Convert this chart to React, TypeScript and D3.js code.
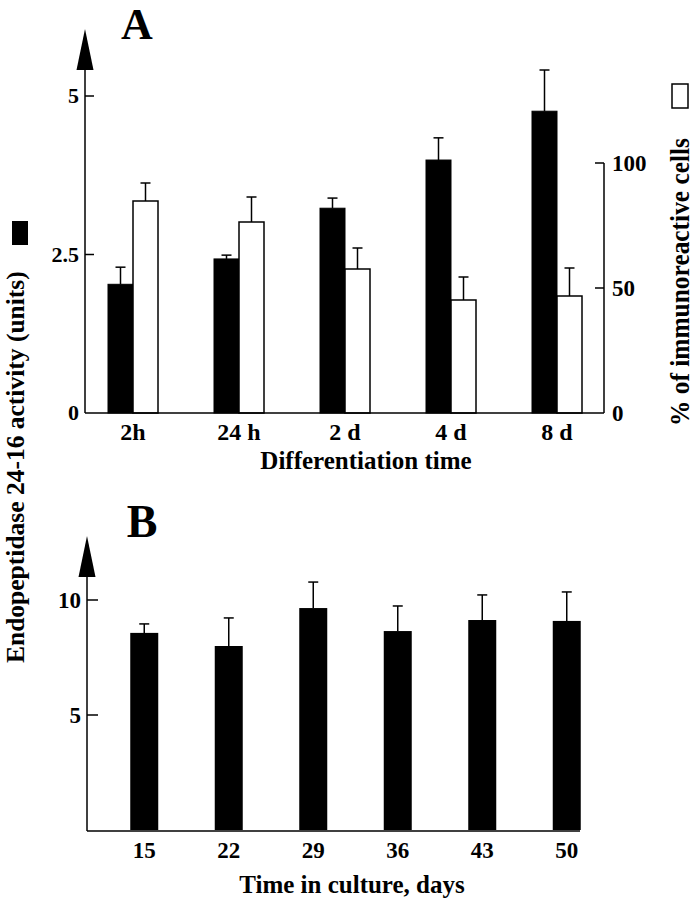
import React from "react";
import * as d3 from "d3";

const catsA = ["2h", "24 h", "2 d", "4 d", "8 d"];
const activityA = [2.03, 2.43, 3.23, 3.99, 4.76];
const activityErrA = [0.27, 0.06, 0.16, 0.35, 0.65];
const percentA = [84.8, 76.4, 57.6, 45.2, 46.8];
const percentErrA = [7.2, 10, 8.4, 9.2, 11.2];
const ticksLeftA = [0, 2.5, 5];
const ticksRightA = [0, 50, 100];

const catsB = ["15", "22", "29", "36", "43", "50"];
const activityB = [8.57, 8.0, 9.65, 8.65, 9.13, 9.09];
const activityErrB = [0.39, 1.22, 1.13, 1.09, 1.09, 1.26];
const ticksB = [5, 10];

const FONT = "'Liberation Serif', 'Times New Roman', serif";

export default function App() {
  // Panel A scales
  const xA = d3.scaleBand<string>().domain(catsA).range([80, 610]);
  const yL = d3.scaleLinear().domain([0, 5]).range([413, 96]);
  const yR = d3.scaleLinear().domain([0, 100]).range([413, 163]);
  const bwA = 25;
  const centerA = (c: string) => (xA(c) as number) + xA.bandwidth() / 2;

  // Panel B scales
  const xB = d3.scaleBand<string>().domain(catsB).range([102, 609]);
  const yB = d3.scaleLinear().domain([0, 10]).range([830, 600]);
  const bwB = 28;
  const centerB = (c: string) => (xB(c) as number) + xB.bandwidth() / 2;

  const axA = 85;
  const axB = 87;
  const rAx = 604;
  const cap = 5;

  const errBar = (x: number, y0: number, y1: number, key: string) => (
    <g key={key} stroke="#000" strokeWidth={1.5}>
      <line x1={x} x2={x} y1={y0} y2={y1} />
      <line x1={x - cap} x2={x + cap} y1={y1} y2={y1} />
    </g>
  );

  return (
    <svg
      width={696}
      height={899}
      style={{ position: "absolute", left: 0, top: 0, background: "#fff" }}
      fontFamily={FONT}
      fontWeight="bold"
    >
      <rect x={0} y={0} width={696} height={899} fill="#fff" />
      {/* Panel labels */}
      <text x={137} y={39} fontSize={44} textAnchor="middle">A</text>
      <text x={142} y={537} fontSize={46} textAnchor="middle">B</text>

      {/* Left axis title + legend square */}
      <rect x={12} y={221} width={16} height={24} fill="#000" />
      <text
        transform={`translate(24,663) rotate(-90)`}
        fontSize={25.5}
        textAnchor="start"
      >
        Endopeptidase 24-16 activity (units)
      </text>

      {/* Right axis title + legend square */}
      <rect x={672} y={84} width={16} height={24} fill="#fff" stroke="#000" strokeWidth={1.5} />
      <text
        transform={`translate(689,426) rotate(-90)`}
        fontSize={27}
        textAnchor="start"
        textLength={288}
        lengthAdjust="spacingAndGlyphs"
      >
        % of immunoreactive cells
      </text>

      {/* ===== Panel A ===== */}
      {catsA.map((c, i) => {
        const cx = centerA(c);
        return (
          <g key={"a" + c}>
            <rect
              x={cx - bwA}
              y={yL(activityA[i])}
              width={bwA}
              height={yL(0) - yL(activityA[i])}
              fill="#000"
              stroke="#000"
              strokeWidth={1}
            />
            {errBar(cx - bwA / 2, yL(activityA[i]), yL(activityA[i] + activityErrA[i]), "ea" + c)}
            <rect
              x={cx}
              y={yR(percentA[i])}
              width={bwA}
              height={yR(0) - yR(percentA[i])}
              fill="#fff"
              stroke="#000"
              strokeWidth={1.5}
            />
            {errBar(cx + bwA / 2, yR(percentA[i]), yR(percentA[i] + percentErrA[i]), "ep" + c)}
            <text x={cx} y={440} fontSize={24} textAnchor="middle">{c}</text>
          </g>
        );
      })}
      {/* left axis A */}
      <line x1={axA} x2={axA} y1={68} y2={413} stroke="#000" strokeWidth={1.5} />
      <path d={`M${axA},29 L${axA - 8.5},70 L${axA + 8.5},70 Z`} fill="#000" />
      <line x1={axA} x2={rAx} y1={413} y2={413} stroke="#000" strokeWidth={1.5} />
      {ticksLeftA.map((t) => (
        <g key={"tl" + t}>
          {t !== 0 && (
            <line x1={axA} x2={axA + 9} y1={yL(t)} y2={yL(t)} stroke="#000" strokeWidth={1.5} />
          )}
          <text x={axA - 6} y={yL(t) + 7} fontSize={22} textAnchor="end">{t}</text>
        </g>
      ))}
      {/* right axis A */}
      <line x1={rAx} x2={rAx} y1={yR(100)} y2={413} stroke="#000" strokeWidth={1.5} />
      {ticksRightA.map((t) => (
        <g key={"tr" + t}>
          {t !== 0 && (
            <line x1={rAx - 9} x2={rAx} y1={yR(t)} y2={yR(t)} stroke="#000" strokeWidth={1.5} />
          )}
          <text x={rAx + 8} y={yR(t) + 8} fontSize={23} textAnchor="start">{t}</text>
        </g>
      ))}
      <text x={366} y={469} fontSize={25} textAnchor="middle">Differentiation time</text>

      {/* ===== Panel B ===== */}
      {catsB.map((c, i) => {
        const cx = centerB(c);
        return (
          <g key={"b" + c}>
            <rect
              x={cx - bwB / 2}
              y={yB(activityB[i])}
              width={bwB}
              height={yB(0) - yB(activityB[i])}
              fill="#000"
            />
            {errBar(cx, yB(activityB[i]), yB(activityB[i] + activityErrB[i]), "eb" + c)}
            <text x={cx} y={858} fontSize={23} textAnchor="middle">{c}</text>
          </g>
        );
      })}
      <line x1={axB} x2={axB} y1={575} y2={831} stroke="#000" strokeWidth={1.5} />
      <path d={`M${axB},536 L${axB - 8.5},577 L${axB + 8.5},577 Z`} fill="#000" />
      <line x1={axB} x2={580} y1={831} y2={831} stroke="#000" strokeWidth={1.5} />
      {ticksB.map((t) => (
        <g key={"tb" + t}>
          <line x1={axB} x2={axB + 11} y1={yB(t)} y2={yB(t)} stroke="#000" strokeWidth={1.5} />
          <text x={axB - 6} y={yB(t) + 8} fontSize={23} textAnchor="end">{t}</text>
        </g>
      ))}
      <text x={352} y={893} fontSize={25} textAnchor="middle">Time in culture, days</text>
    </svg>
  );
}
